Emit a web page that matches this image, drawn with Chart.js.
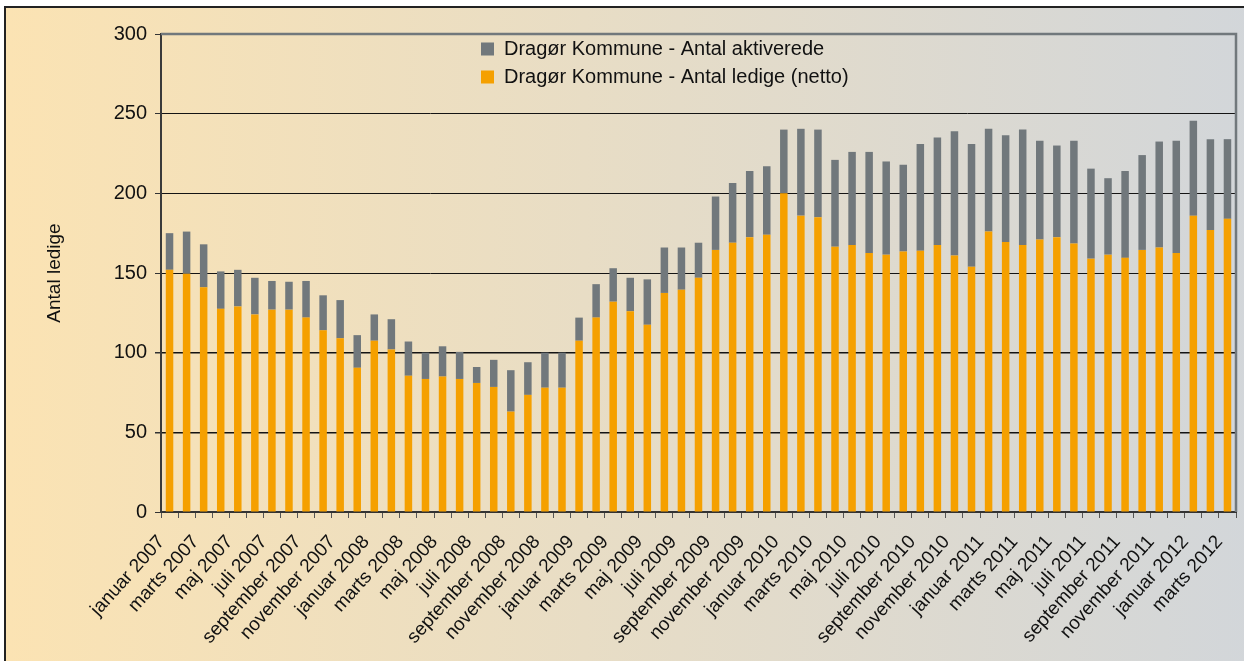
<!DOCTYPE html>
<html>
<head>
<meta charset="utf-8">
<script src="https://cdn.jsdelivr.net/npm/chart.js@4.4.1/dist/chart.umd.min.js"></script>
<style>
  html, body { margin: 0; padding: 0; background: #ffffff; width: 1244px; height: 661px; overflow: hidden; }
  #frame { position: absolute; left: 4px; top: 6px; width: 1250px; height: 670px;
    border-left: 2px solid #222; border-top: 2px solid #222;
    background: linear-gradient(to right, #FBE3B3 0%, #D2D6DA 100%); }
  #c { position: absolute; left: 0; top: 0; }
</style>
</head>
<body>
<div id="frame"></div>
<canvas id="c" width="1244" height="661"></canvas>
<script>
const categories = [
  "januar 2007","februar 2007","marts 2007","april 2007","maj 2007","juni 2007","juli 2007","august 2007","september 2007","oktober 2007","november 2007","december 2007",
  "januar 2008","februar 2008","marts 2008","april 2008","maj 2008","juni 2008","juli 2008","august 2008","september 2008","oktober 2008","november 2008","december 2008",
  "januar 2009","februar 2009","marts 2009","april 2009","maj 2009","juni 2009","juli 2009","august 2009","september 2009","oktober 2009","november 2009","december 2009",
  "januar 2010","februar 2010","marts 2010","april 2010","maj 2010","juni 2010","juli 2010","august 2010","september 2010","oktober 2010","november 2010","december 2010",
  "januar 2011","februar 2011","marts 2011","april 2011","maj 2011","juni 2011","juli 2011","august 2011","september 2011","oktober 2011","november 2011","december 2011",
  "januar 2012","februar 2012","marts 2012"
];
const ledigeNetto = [
  152, 149.5, 141, 127.5, 129, 124, 127, 127, 122, 114, 109, 90.5,
  107.5, 102, 85.5, 83.5, 85, 83.5, 81, 78.5, 63, 73.5, 78, 78,
  107.5, 122, 132, 126, 117.5, 137.5, 139.5, 147, 164.5, 169, 172.5, 174,
  200, 186, 185, 166.5, 167.5, 162.5, 161.5, 163.5, 164, 167.5, 161, 154,
  176, 169.5, 167.5, 171, 172.5, 168.5, 159, 161.5, 159.5, 164.5, 166, 162.5,
  186, 177, 184
];
const aktiverede = [
  23, 26.5, 27, 23.5, 23, 23, 18, 17.5, 23, 22, 24, 20.5,
  16.5, 19, 21.5, 16.5, 19, 17, 10, 17, 26, 20.5, 22, 22,
  14.5, 21, 21, 21, 28.5, 28.5, 26.5, 22, 33.5, 37.5, 41.5, 43,
  40, 54.5, 55, 54.5, 58.5, 63.5, 58.5, 54.5, 67, 67.5, 78, 77,
  64.5, 67, 72.5, 62, 57.5, 64.5, 56.5, 48, 54.5, 59.5, 66.5, 70.5,
  59.5, 57, 50
];
const seriesNames = ["Dragør Kommune - Antal ledige (netto)", "Dragør Kommune - Antal aktiverede"];
const yTicks = [0, 50, 100, 150, 200, 250, 300];
const yTitle = "Antal ledige";

const FONT = "'Liberation Sans', Arial, sans-serif";
const GREY = "#71787C";
const ORANGE = "#F5A000";

const framePlugin = {
  id: 'frame',
  afterLayout(chart) {
    const lg = chart.legend;
    if (lg) {
      const pad = lg.options.labels.padding;
      const w = lg.width, h = lg.height;
      lg.left = 481 - pad; lg.right = lg.left + w;
      lg.top = 39 - pad; lg.bottom = lg.top + h;
    }
  },
  afterDatasetsDraw(chart) {
    const {ctx, chartArea: a} = chart;
    ctx.save();
    ctx.strokeStyle = GREY;
    ctx.lineWidth = 2.5;
    ctx.beginPath();
    ctx.moveTo(a.left, a.top);
    ctx.lineTo(a.right, a.top);
    ctx.lineTo(a.right, a.bottom);
    ctx.stroke();
    ctx.restore();
  }
};

new Chart(document.getElementById('c'), {
  type: 'bar',
  data: {
    labels: categories,
    datasets: [
      { label: seriesNames[0], data: ledigeNetto, backgroundColor: ORANGE, barPercentage: 0.44, categoryPercentage: 1 },
      { label: seriesNames[1], data: aktiverede, backgroundColor: GREY, barPercentage: 0.44, categoryPercentage: 1 }
    ]
  },
  options: {
    responsive: false,
    animation: false,
    layout: { padding: { top: 34, right: 8, left: 0, bottom: 0 } },
    plugins: {
      tooltip: { enabled: false },
      legend: {
        position: 'chartArea',
        fullSize: false,
        align: 'start',
        reverse: true,
        labels: { boxWidth: 13, boxHeight: 13, padding: 8, color: '#111', font: { family: FONT, size: 20 } }
      }
    },
    scales: {
      x: {
        stacked: true,
        afterFit(scale) { scale.height = 149; scale.paddingLeft = 0; scale.paddingRight = 0; },
        border: { display: true, color: '#333', width: 2 },
        grid: { display: true, offset: true, drawOnChartArea: false, drawTicks: true, tickLength: 6, tickColor: '#555' },
        ticks: {
          autoSkip: false, minRotation: 48, maxRotation: 48, padding: 13, labelOffset: -8,
          color: '#111', font: { family: FONT, size: 19 },
          callback(value, index) { return index % 2 === 0 ? this.getLabelForValue(value) : ''; }
        }
      },
      y: {
        stacked: true,
        min: 0, max: 300,
        afterFit(scale) { scale.width = 161; },
        afterBuildTicks(scale) { scale.ticks = yTicks.map(v => ({ value: v })); },
        border: { display: true, color: '#3a3a3a', width: 2 },
        grid: {
          color: (c) => c.tick && c.tick.value === 300 ? GREY : '#141414',
          lineWidth: (c) => c.tick && (c.tick.value === 50 || c.tick.value === 100) ? 1.5 : 1,
          tickColor: '#333', tickLength: 6, drawTicks: true
        },
        ticks: { padding: 8, color: '#111', font: { family: FONT, size: 20 } },
        title: { display: true, text: yTitle, color: '#111', font: { family: FONT, size: 19 }, padding: { top: 43, bottom: 0 } }
      }
    }
  },
  plugins: [framePlugin]
});
</script>
</body>
</html>
